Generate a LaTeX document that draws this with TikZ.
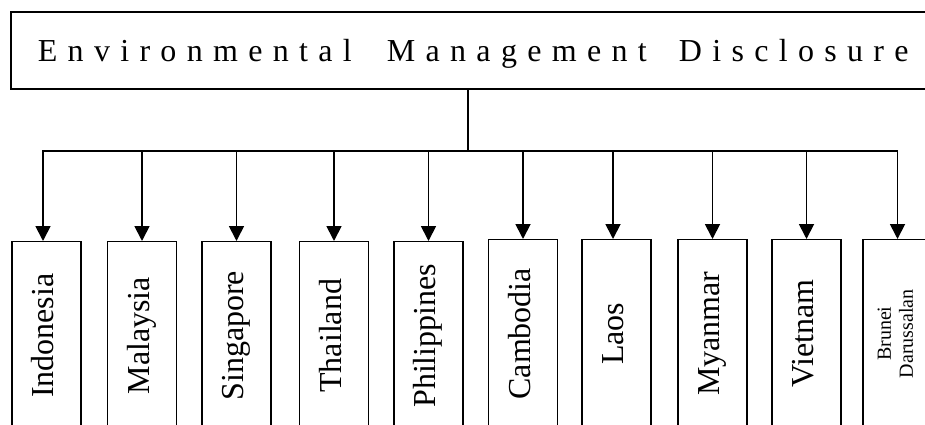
\documentclass[tikz,border=0pt]{standalone}
\usepackage{fontspec}
\setmainfont{Liberation Serif}
\usetikzlibrary{arrows.meta}
\begin{document}
\begin{tikzpicture}[x=1pt,y=-1pt,
  conn/.style={line width=1.8pt},
  arr/.style={conn,-{Triangle[length=15pt,width=15pt]}},
  titlebox/.style={draw,line width=1.8pt,anchor=north west,text width=990pt,align=left,
    inner xsep=27pt,inner ysep=0pt,minimum height=77pt,text depth=0pt,
    font=\fontsize{32}{36}\selectfont\addfontfeature{LetterSpace=32.2}},
  cbox/.style={draw,line width=1.4pt,anchor=north,minimum width=69pt,minimum height=188pt,
    inner sep=0pt,font=\fontsize{32}{36}\selectfont},
]
\useasboundingbox (0,0) rectangle (925,425);
\clip (0,0) rectangle (925,425);
\node[titlebox] (top) at (10,11)
  {\makebox[349pt][l]{Environmental}\makebox[292pt][l]{Management}Disclosure};
\coordinate (stem) at (468,151);
\foreach \n/\cx/\t/\lab in {
  c1/46.5/241/Indonesia, c2/142/241/Malaysia, c3/236.5/241/Singapore,
  c4/334/241/Thailand, c5/428.5/241/Philippines, c6/523/239/Cambodia,
  c7/616.5/239/Laos, c8/712.5/239/Myanmar, c9/806.5/239/Vietnam}
  \node[cbox] (\n) at (\cx,\t) {\rotatebox{90}{\strut\lab}};
\node[cbox] (c10) at (897.5,239) {\rotatebox{90}{\fontsize{20}{22}\selectfont
  \begin{tabular}{@{}c@{}}Brunei\\Darussalan\end{tabular}}};
\draw[conn] (top.south -| stem) -- (stem);
\draw[conn,line cap=rect] ([xshift=-3.5pt]c1.north |- stem) -- (c10.north |- stem);
\draw[arr] ([xshift=-3.5pt]c1.north |- stem) -- ([xshift=-3.5pt]c1.north);
\foreach \n in {c2,c3,c4,c5,c6,c8,c9,c10}
  \draw[arr] (\n.north |- stem) -- (\n.north);
\draw[arr] ([xshift=-3.5pt]c7.north |- stem) -- ([xshift=-3.5pt]c7.north);
\end{tikzpicture}
\end{document}
